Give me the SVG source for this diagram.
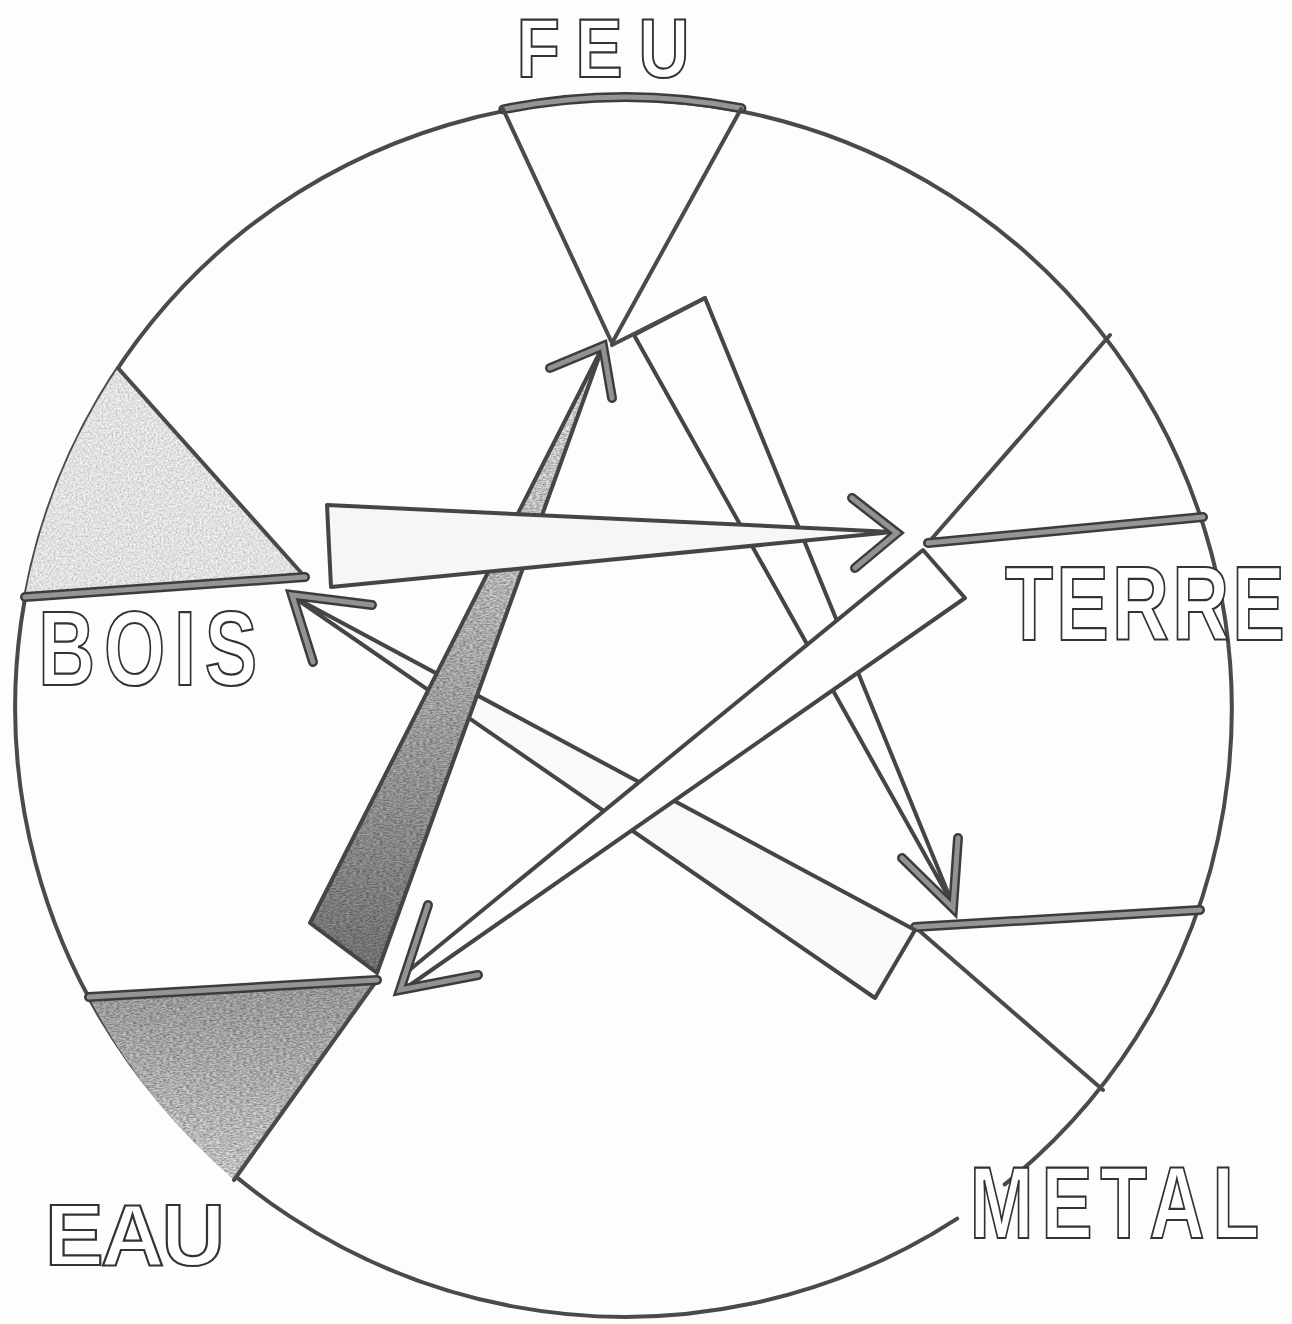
<svg xmlns="http://www.w3.org/2000/svg" width="1292" height="1324" viewBox="0 0 1292 1324">
<defs>
<style>
.ln{fill:none;stroke:#4a4a4a;stroke-width:4;stroke-linecap:round;stroke-linejoin:round}
.thk{fill:none;stroke:#3c3c3c;stroke-width:10;stroke-linecap:round}
.thk2{fill:none;stroke:#959595;stroke-width:5;stroke-linecap:round}
.ar{stroke:#454545;stroke-width:4;stroke-linejoin:round}
.barb{fill:none;stroke:#3c3c3c;stroke-width:10;stroke-linecap:round}
.barb2{fill:none;stroke:#929292;stroke-width:5;stroke-linecap:round}
.lbl{font-family:"Liberation Sans",Arial,sans-serif;font-weight:bold;fill:#ffffff;stroke:#333333;stroke-width:2.2}
</style>
<linearGradient id="g3" x1="0" y1="348" x2="0" y2="973" gradientUnits="userSpaceOnUse">
<stop offset="0" stop-color="#f6f6f6"/><stop offset="0.35" stop-color="#d4d4d4"/><stop offset="1" stop-color="#828282"/>
</linearGradient>
<linearGradient id="geau" x1="0" y1="985" x2="0" y2="1180" gradientUnits="userSpaceOnUse">
<stop offset="0" stop-color="#b0b0b0"/><stop offset="1" stop-color="#e2e2e2"/>
</linearGradient>
<filter id="tex" x="0" y="0" width="100%" height="100%" color-interpolation-filters="sRGB">
<feTurbulence type="fractalNoise" baseFrequency="0.3 0.7" numOctaves="2" seed="4" result="n"/>
<feColorMatrix in="n" type="matrix" values="0.7 0 0 0 0.5  0.7 0 0 0 0.5  0.7 0 0 0 0.5  0 0 0 0 1" result="g"/>
<feBlend in="SourceGraphic" in2="g" mode="multiply" result="m"/>
<feComposite in="m" in2="SourceGraphic" operator="in"/>
</filter>
<filter id="texl" x="0" y="0" width="100%" height="100%" color-interpolation-filters="sRGB">
<feTurbulence type="fractalNoise" baseFrequency="0.5 0.5" numOctaves="2" seed="9" result="n"/>
<feColorMatrix in="n" type="matrix" values="0.4 0 0 0 0.72  0.4 0 0 0 0.72  0.4 0 0 0 0.72  0 0 0 0 1" result="g"/>
<feBlend in="SourceGraphic" in2="g" mode="multiply" result="m"/>
<feComposite in="m" in2="SourceGraphic" operator="in"/>
</filter>
</defs>
<rect width="1292" height="1324" fill="#fdfdfd"/>

<g id="circle">
<path class="ln" d="M 1004.7 1184.4 A 610 610 0 0 0 245.3 229.6 A 610 610 0 0 0 957.2 1218.6"/>
</g>

<g id="node-feu">
<path class="thk" d="M 503.4 109.3 A 610 610 0 0 1 741.4 108.2"/>
<path class="thk2" d="M 503.4 109.3 A 610 610 0 0 1 741.4 108.2"/>
<polyline class="ln" points="503,109 612,343 741,109"/>
<text class="lbl" transform="scale(0.85,1)" x="608" y="77" font-size="83" textLength="203" lengthAdjust="spacing">FEU</text>
</g>

<g id="node-terre">
<polyline class="ln" points="1110,335 928,543"/>
<line class="thk" x1="928" y1="543" x2="1203" y2="517"/>
<line class="thk2" x1="928" y1="543" x2="1203" y2="517"/>
<text class="lbl" transform="scale(0.75,1)" x="1340" y="640" font-size="105" textLength="373" lengthAdjust="spacing">TERRE</text>
</g>

<g id="node-metal">
<polyline class="ln" points="915,927 1103,1090"/>
<line class="thk" x1="915" y1="927" x2="1200" y2="910"/>
<line class="thk2" x1="915" y1="927" x2="1200" y2="910"/>
<text class="lbl" transform="scale(0.75,1)" x="1293" y="1238" font-size="102" textLength="386" lengthAdjust="spacing">METAL</text>
</g>

<g id="node-eau">
<path d="M 89 997 L 377 980 L 234 1180 A 610 610 0 0 1 89 997 Z" fill="url(#geau)" filter="url(#tex)"/>
<polyline class="ln" points="377,980 234,1180"/>
<line class="thk" x1="89" y1="997" x2="377" y2="980"/>
<line class="thk2" x1="89" y1="997" x2="377" y2="980"/>
<text class="lbl" x="45" y="1265" font-size="88" textLength="180" lengthAdjust="spacing">EAU</text>
</g>

<g id="node-bois">
<path d="M 118 368 L 305 577 L 25 597 A 610 610 0 0 1 118 368 Z" fill="#f4f4f4" filter="url(#texl)"/>
<polyline class="ln" points="118,368 305,577"/>
<line class="thk" x1="25" y1="597" x2="305" y2="577"/>
<line class="thk2" x1="25" y1="597" x2="305" y2="577"/>
<text class="lbl" transform="scale(0.75,1)" x="51" y="685" font-size="105" textLength="292" lengthAdjust="spacing">BOIS</text>
</g>

<g id="connectors">
<g id="arrow-feu-metal">
<polygon class="ar" fill="#fdfdfd" points="634,335 705,298 953,905"/>
<line class="ln" x1="612" y1="345" x2="705" y2="298"/>
<polyline class="barb" points="958,838 953,908 902,858"/>
<polyline class="barb2" points="958,838 953,908 902,858"/>
</g>
<g id="arrow-metal-bois">
<polygon class="ar" fill="#f9f9f9" points="292,596 915,930 875,998"/>
<polyline class="barb" points="372,605 292,595 313,662"/>
<polyline class="barb2" points="372,605 292,595 313,662"/>
</g>
<g id="arrow-eau-feu">
<polygon fill="url(#g3)" filter="url(#tex)" points="603,346 377,973 310,923"/>
<polygon class="ar" fill="none" points="603,346 377,973 310,923"/>
<polyline class="barb" points="550,368 603,346 612,398"/>
<polyline class="barb2" points="550,368 603,346 612,398"/>
</g>
<g id="arrow-terre-eau">
<polygon class="ar" fill="#fdfdfd" points="923,550 965,598 400,992 407,972"/>
<polyline class="barb" points="428,905 400,990 478,975"/>
<polyline class="barb2" points="428,905 400,990 478,975"/>
</g>
<g id="arrow-bois-terre">
<polygon class="ar" fill="#f6f6f6" points="327,505 893,532 331,587"/>
<polyline class="barb" points="852,498 897,533 855,568"/>
<polyline class="barb2" points="852,498 897,533 855,568"/>
</g>
</g>
</svg>
